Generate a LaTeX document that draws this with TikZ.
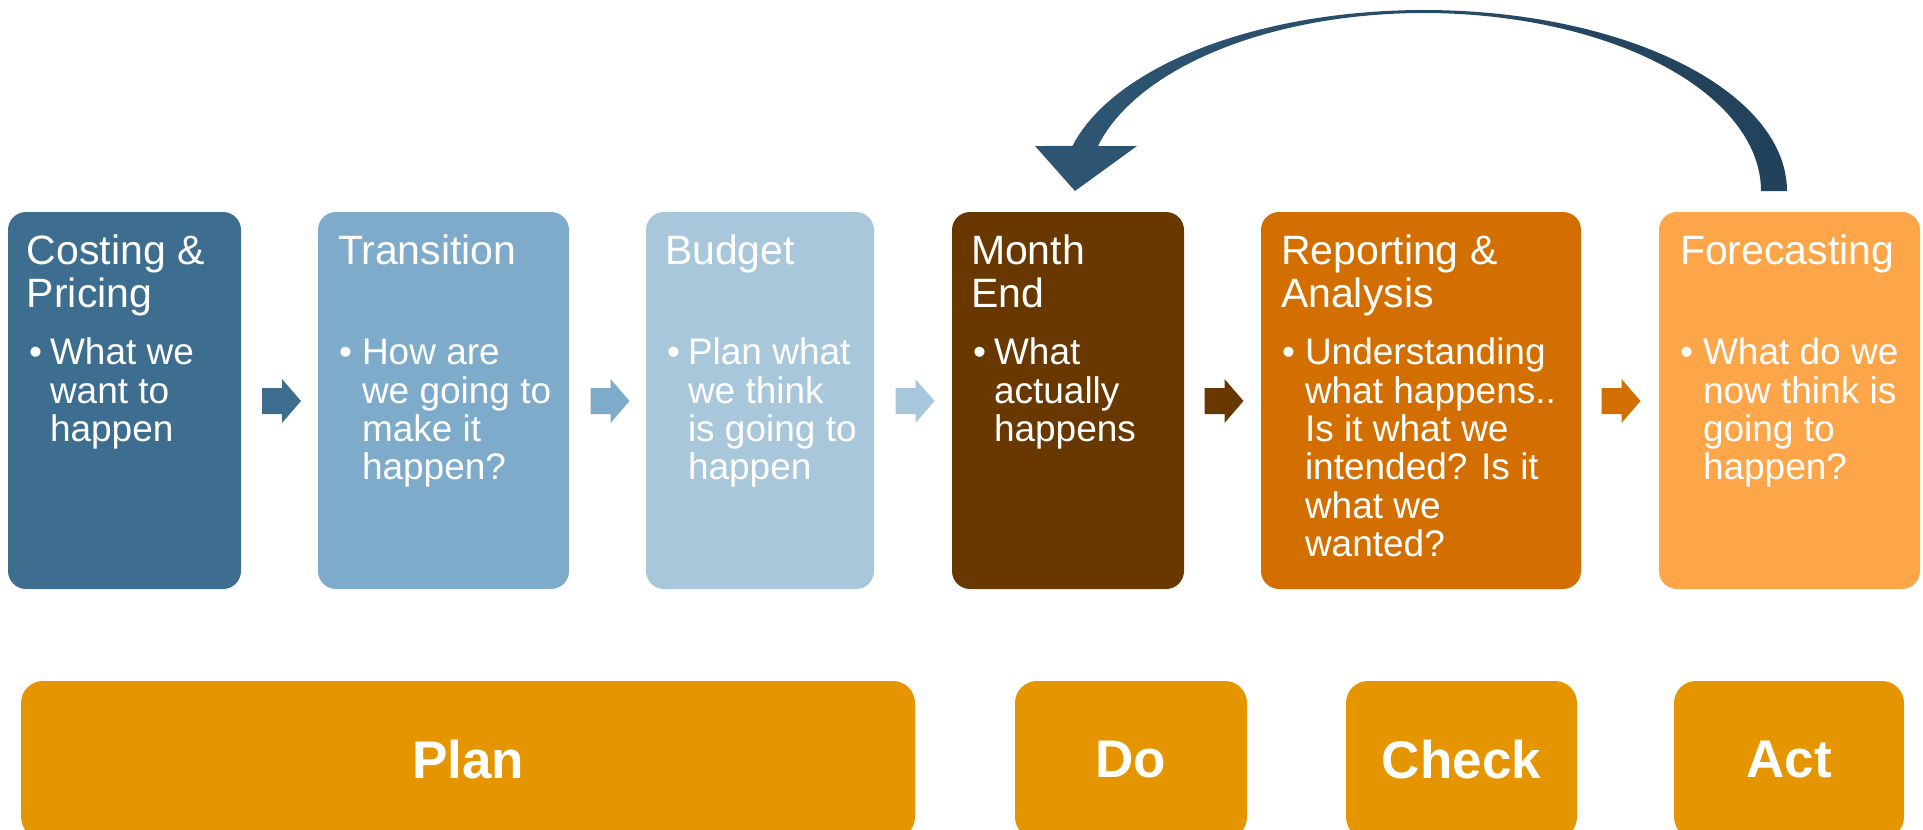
\documentclass[tikz,border=0pt]{standalone}
\usepackage{fontspec}
\setmainfont{Liberation Sans}
\definecolor{cA}{HTML}{3D6E8F}
\definecolor{cB}{HTML}{7DABC9}
\definecolor{cC}{HTML}{A9C7DB}
\definecolor{cD}{HTML}{693800}
\definecolor{cE}{HTML}{D26F00}
\definecolor{cF}{HTML}{FCA549}
\definecolor{cG}{HTML}{E59500}
\definecolor{arrL}{HTML}{2E5674}
\definecolor{arrR}{HTML}{22415A}
\begin{document}
\begin{tikzpicture}[x=1pt,y=-1pt,
  stagebox/.style={rectangle, rounded corners=18pt, minimum height=377pt, inner sep=0pt, draw=none},
  phasebox/.style={rectangle, rounded corners=22pt, minimum height=158pt, inner sep=0pt, draw=none,
     text=white, font=\fontsize{53}{58}\selectfont\bfseries},
  titletxt/.style={anchor=base west, inner sep=0pt, align=left, text=white, font=\fontsize{41}{42.5}\selectfont},
  bullettxt/.style={anchor=base west, inner sep=0pt, align=left, text=white, font=\fontsize{37}{38.3}\selectfont},
  chev/.pic={\fill (-19.5,-13) -- (0.5,-13) -- (0.5,-22) -- (19.5,0) -- (0.5,22) -- (0.5,13) -- (-19.5,13) -- cycle;}
]
\useasboundingbox (0,0) rectangle (1923,830);
\clip (0,0) rectangle (1923,830);

% stage boxes
\node[stagebox, fill=cA, minimum width=233pt] (b1) at (124.5,400.5) {};
\node[stagebox, fill=cB, minimum width=251pt] (b2) at (443.5,400.5) {};
\node[stagebox, fill=cC, minimum width=228pt] (b3) at (760,400.5) {};
\node[stagebox, fill=cD, minimum width=232pt] (b4) at (1068,400.5) {};
\node[stagebox, fill=cE, minimum width=320pt] (b5) at (1421,400.5) {};
\node[stagebox, fill=cF, minimum width=261pt] (b6) at (1789.5,400.5) {};

% titles (base anchor = baseline of last line)
\node[titletxt] (t1) at ([xshift=19pt,yshift=-95.5pt]b1.north west) {Costing \&\\Pricing};
\node[titletxt] (t2) at ([xshift=20pt,yshift=-53pt]b2.north west) {Transition};
\node[titletxt] (t3) at ([xshift=19pt,yshift=-53pt]b3.north west) {Budget};
\node[titletxt] (t4) at ([xshift=19pt,yshift=-95.5pt]b4.north west) {Month\\End};
\node[titletxt] (t5) at ([xshift=20pt,yshift=-95.5pt]b5.north west) {Reporting \&\\Analysis};
\node[titletxt] (t6) at ([xshift=21pt,yshift=-53pt]b6.north west) {Forecasting};

% bullets
\foreach \b in {1,...,6}{
  \node[bullettxt] (d\b) at ([xshift=21pt,yshift=-153pt]b\b.north west) {•};
}
\node[bullettxt] (p1) at ([xshift=42pt,yshift=-229.6pt]b1.north west) {What we\\want to\\happen};
\node[bullettxt] (p2) at ([xshift=44pt,yshift=-267.9pt]b2.north west) {How are\\we going to\\make it\\happen?};
\node[bullettxt] (p3) at ([xshift=42pt,yshift=-267.9pt]b3.north west) {Plan what\\we think\\is going to\\happen};
\node[bullettxt] (p4) at ([xshift=42pt,yshift=-229.6pt]b4.north west) {What\\actually\\happens};
\node[bullettxt] (p5) at ([xshift=44pt,yshift=-344.5pt]b5.north west) {Understanding\\what happens..\\Is it what we\\intended? Is it\\what we\\wanted?};
\node[bullettxt] (p6) at ([xshift=44pt,yshift=-267.9pt]b6.north west) {What do we\\now think is\\going to\\happen?};

% small block arrows between stages
\pic[fill=cA] at (281.5,401) {chev};
\pic[fill=cB] at (610,401) {chev};
\pic[fill=cC] at (915,401) {chev};
\pic[fill=cD] at (1224,401) {chev};
\pic[fill=cE] at (1621,401) {chev};

% curved feedback arrow
\shade[left color=arrL, right color=arrR]
  plot[domain=0:165.6, samples=90, variable=\t] ({1424+363*cos(\t)},{191-181*sin(\t)})
  -- (1035,146) -- (1075,191) -- (1137,146) -- (1097.8,146)
  -- plot[domain=165.44:0, samples=90, variable=\t] ({1424+337*cos(\t)},{191-178*sin(\t)})
  -- cycle;

% phase boxes
\node[phasebox, fill=cG, minimum width=894pt] (plan) at (468,760) {Plan};
\node[phasebox, fill=cG, minimum width=232pt] (do) at (1131,760) {Do};
\node[phasebox, fill=cG, minimum width=231pt] (check) at (1461.5,760) {Check};
\node[phasebox, fill=cG, minimum width=230pt] (act) at (1789,760) {Act};
\end{tikzpicture}
\end{document}
